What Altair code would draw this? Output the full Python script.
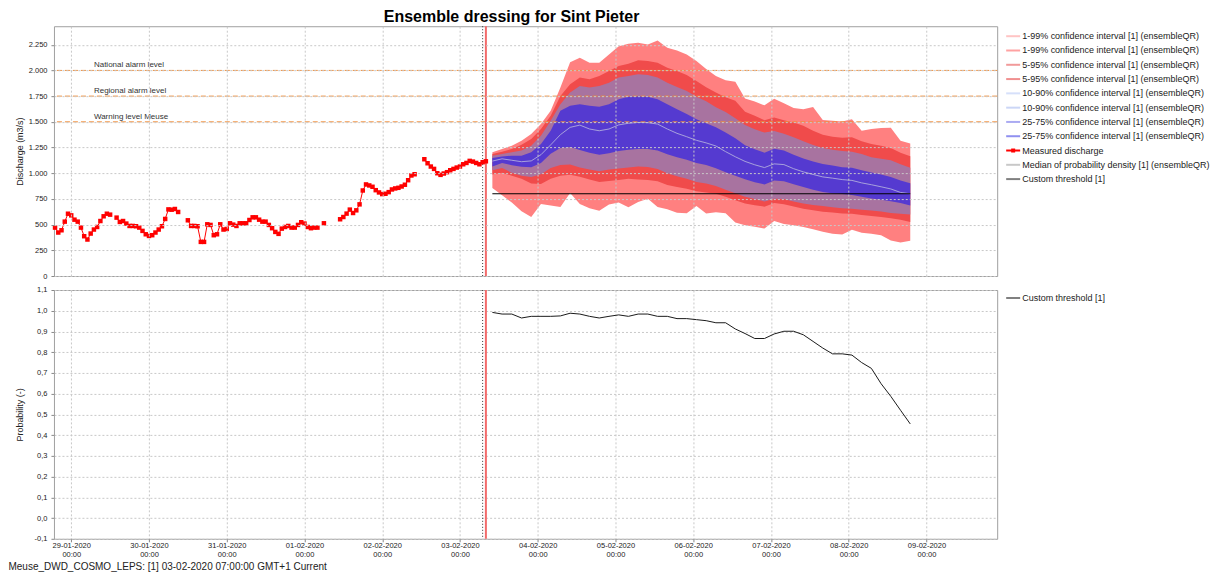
import altair as alt
import pandas as pd

# ---------------- data ----------------
BASE_TIME = pd.Timestamp("2020-01-29 00:00")  # hour offsets are counted from here

# Measured discharge (m3/s), hourly, first value at hour -5; None = no observation
meas_first_hour = -5
measured_discharge = [
    471, 423, 445, 529, 606, 590, 548, 529, 471, 387, 355, 413, 452, 477, 535, 581, 606, 597,
    None,
    568, 526, 535, 510, 487, 487, 484, 471, 439, 406, 390, 397, 423, 452, 484, 555, 648, 645, 652, 623,
    None, None,
    542, 487, 487, 484, 332, 332, 503, 497, 397, 406, 503, 452, 458, 513, 500, 487, 513, 513, 513,
    545, 571, 571, 548, 529, 529, 497, 465, 429, 410, 461, 477, 487, 471, 471, 497, 523, 510, 477,
    465, 471, 471,
    None,
    513,
    None, None, None, None,
    552, 574, 607, 646, 613, 639, 697, 832, 891, 881, 868, 835, 813, 797, 800, 816, 842, 852, 858,
    871, 888, 932, 978, 990,
    None, None,
    1136, 1097, 1065, 1042, 1000, 984, 997, 1010, 1029, 1042, 1055, 1065, 1087, 1100, 1120, 1113,
    1100, 1087, 1107, 1116,
]

# Ensemble dressing forecast, 3-hourly from hour 130 (03-02-2020 10:00)
fc_first_hour = 130
fc_step_hours = 3
q01_lo = [855, 785, 715, 630, 575, 700, 687, 671, 807, 700, 660, 635, 695, 715, 670, 720, 752, 671,
          650, 615, 610, 680, 607, 620, 610, 520, 494, 480, 461, 535, 505, 495, 478, 455, 430, 412,
          405, 450, 420, 412, 397, 345, 325, 342]
q01_hi = [1204, 1236, 1268, 1317, 1381, 1478, 1607, 1833, 2080, 2123, 2075, 2075, 2156, 2236, 2259,
          2269, 2252, 2291, 2220, 2194, 2156, 2091, 2015, 1945, 1905, 1891, 1728, 1697, 1660, 1725,
          1680, 1635, 1622, 1645, 1517, 1510, 1502, 1526, 1413, 1430, 1439, 1443, 1317, 1288]
q05_lo = [987, 1005, 975, 945, 900, 895, 945, 975, 985, 965, 940, 915, 925, 935, 945, 940, 935, 922,
          885, 865, 849, 825, 812, 800, 770, 738, 706, 688, 675, 710, 698, 676, 655, 639, 626, 619,
          609, 606, 593, 585, 573, 563, 547, 526]
q05_hi = [1188, 1210, 1236, 1278, 1333, 1430, 1559, 1752, 1865, 1930, 1914, 1946, 1994, 2043, 2065,
          2098, 2091, 2075, 2027, 1994, 1956, 1897, 1836, 1785, 1740, 1704, 1597, 1560, 1516, 1543,
          1515, 1494, 1462, 1413, 1375, 1355, 1345, 1349, 1310, 1284, 1268, 1245, 1200, 1165]
q10_lo = [1028, 1050, 1005, 975, 962, 990, 1050, 1080, 1085, 1055, 1035, 1020, 1035, 1045, 1055,
          1065, 1060, 1040, 1000, 970, 945, 915, 900, 875, 838, 806, 770, 748, 725, 752, 748, 725,
          705, 690, 680, 668, 658, 655, 645, 637, 628, 614, 606, 598]
q10_hi = [1171, 1188, 1204, 1220, 1268, 1365, 1510, 1672, 1785, 1849, 1833, 1849, 1881, 1930, 1946,
          1962, 1956, 1930, 1881, 1839, 1801, 1743, 1700, 1642, 1595, 1535, 1470, 1428, 1395, 1410,
          1385, 1350, 1312, 1275, 1245, 1228, 1215, 1208, 1188, 1155, 1140, 1125, 1088, 1052]
q25_lo = [1065, 1100, 1078, 1062, 1058, 1100, 1190, 1245, 1255, 1225, 1200, 1180, 1195, 1215, 1228,
          1236, 1236, 1220, 1185, 1155, 1130, 1100, 1080, 1048, 1010, 976, 942, 912, 891, 930, 921,
          893, 866, 840, 818, 805, 797, 788, 770, 754, 742, 728, 710, 687]
q25_hi = [1149, 1162, 1171, 1171, 1204, 1284, 1413, 1607, 1656, 1672, 1656, 1646, 1672, 1720, 1743,
          1752, 1743, 1720, 1672, 1623, 1575, 1526, 1485, 1448, 1395, 1340, 1272, 1232, 1200, 1238,
          1220, 1180, 1142, 1115, 1090, 1075, 1058, 1052, 1028, 1008, 988, 962, 930, 902]
median = [1118, 1140, 1126, 1112, 1120, 1180, 1276, 1375, 1446, 1468, 1430, 1413, 1430, 1470, 1486,
          1494, 1492, 1478, 1430, 1388, 1355, 1320, 1295, 1265, 1210, 1160, 1115, 1082, 1055, 1091,
          1084, 1044, 1013, 988, 964, 952, 938, 930, 906, 888, 868, 847, 813, 800]
probability = [0.992, 0.984, 0.984, 0.965, 0.973, 0.973, 0.973, 0.975, 0.988, 0.984, 0.973, 0.965,
               0.973, 0.980, 0.973, 0.984, 0.984, 0.973, 0.973, 0.962, 0.962, 0.957, 0.952, 0.942,
               0.942, 0.912, 0.890, 0.866, 0.866, 0.888, 0.901, 0.901, 0.884, 0.852, 0.820, 0.792,
               0.792, 0.786, 0.750, 0.722, 0.648, 0.587, 0.520, 0.454]

custom_threshold = 800
level_values = [2000, 1750, 1500]
level_labels = ["National alarm level", "Regional alarm level", "Warning level Meuse"]

t0_hour = 127    # 03-02-2020 07:00 (forecast time)
now_hour = 128   # 03-02-2020 08:00 (current time)

x_domain = ["2020-01-28 18:40", "2020-02-09 21:50"]
day_ticks = ["2020-01-29", "2020-01-30", "2020-01-31", "2020-02-01", "2020-02-02", "2020-02-03",
             "2020-02-04", "2020-02-05", "2020-02-06", "2020-02-07", "2020-02-08", "2020-02-09"]
discharge_ticks = [0, 250, 500, 750, 1000, 1250, 1500, 1750, 2000, 2250]
discharge_max = 2430
prob_ticks = [-0.1, 0.0, 0.1, 0.2, 0.3, 0.4, 0.5, 0.6, 0.7, 0.8, 0.9, 1.0, 1.1]

legend_labels = [
    "1-99% confidence interval [1]  (ensembleQR)",
    "1-99% confidence interval [1]  (ensembleQR)",
    "5-95% confidence interval [1]  (ensembleQR)",
    "5-95% confidence interval [1]  (ensembleQR)",
    "10-90% confidence interval [1]  (ensembleQR)",
    "10-90% confidence interval [1]  (ensembleQR)",
    "25-75% confidence interval [1]  (ensembleQR)",
    "25-75% confidence interval [1]  (ensembleQR)",
    "Measured discharge",
    "Median of probability density [1]  (ensembleQR)",
    "Custom threshold [1]",
]
legend_colors = ["#ffc4c4", "#ffa2a2", "#f19a9a", "#f09090", "#d6e0fa", "#cbd6f6",
                 "#aaaaf2", "#9090f0", "#ff0000", "#c8c8c8", "#808080"]
bottom_legend_labels = ["Custom threshold [1]"]

title_text = "Ensemble dressing for Sint Pieter"
caption_text = "Meuse_DWD_COSMO_LEPS: [1] 03-02-2020 07:00:00 GMT+1 Current"

# ---------------- tables ----------------
def to_time(h):
    return BASE_TIME + pd.to_timedelta(h, unit="h")

def to_dt(s):
    t = pd.Timestamp(s)
    return alt.DateTime(year=t.year, month=t.month, date=t.day, hours=t.hour, minutes=t.minute)

rows, seg = [], 0
for i, v in enumerate(measured_discharge):
    if v is None:
        seg += 1
        continue
    rows.append({"time": to_time(meas_first_hour + i), "value": v, "seg": seg})
meas_df = pd.DataFrame(rows)

n_fc = len(median)
fc_df = pd.DataFrame({
    "time": [to_time(fc_first_hour + fc_step_hours * i) for i in range(n_fc)],
    "q01_lo": q01_lo, "q01_hi": q01_hi, "q05_lo": q05_lo, "q05_hi": q05_hi,
    "q10_lo": q10_lo, "q10_hi": q10_hi, "q25_lo": q25_lo, "q25_hi": q25_hi,
    "median": median, "prob": probability,
    "threshold": [custom_threshold] * n_fc,
})
lv_df = pd.DataFrame({"value": level_values, "label": level_labels})
t0_df = pd.DataFrame({"time": [to_time(t0_hour)]})
now_df = pd.DataFrame({"time": [to_time(now_hour)]})
leg_df = pd.DataFrame({"idx": list(range(len(legend_labels))), "label": legend_labels})
leg2_df = pd.DataFrame({"label": bottom_legend_labels})

# ---------------- styling ----------------
FONT = "Liberation Sans"
W, H1, H2 = 944, 250, 249

x_scale = alt.Scale(domain=[to_dt(d) for d in x_domain], nice=False)
tick_dt = [to_dt(d) for d in day_ticks]

ax_top_x = alt.Axis(values=tick_dt, labels=False, ticks=False, domain=False, title=None,
                    grid=True, zindex=1)
ax_bot_x = alt.Axis(values=tick_dt, title=None, grid=True, labelFlush=False, labelOverlap=False,
                    labelExpr="[timeFormat(datum.value, '%d-%m-%Y'), timeFormat(datum.value, '%H:%M')]",
                    labelPadding=0, labelLineHeight=8.5)

y1_scale = alt.Scale(domain=[0, discharge_max], nice=False)
y2_scale = alt.Scale(domain=[prob_ticks[0], prob_ticks[-1]], nice=False)

ax_top_y = alt.Axis(values=discharge_ticks, title="Discharge (m3/s)", grid=True, zindex=1,
                    labelExpr="replace(format(datum.value, ',d'), ',', '.')",
                    titleX=-29, titleY=H1 / 2, labelPadding=4)
ax_bot_y = alt.Axis(values=prob_ticks, title="Probability (-)", grid=True,
                    labelExpr="replace(replace(format(datum.value, '.1f'), '.', ','), '\u2212', '-')",
                    titleX=-29, titleY=H2 / 2, labelPadding=4)

xt = alt.X("time:T", scale=x_scale, axis=ax_top_x)
xb = alt.X("time:T", scale=x_scale, axis=ax_bot_x)

def yt(field):
    return alt.Y(f"{field}:Q", scale=y1_scale, axis=ax_top_y)

def band(lo, hi, color):
    return alt.Chart(fc_df).mark_area(color=color).encode(x=xt, y=yt(lo), y2=alt.Y2(f"{hi}:Q"))

top_data = alt.layer(
    band("q01_lo", "q01_hi", "#ff8080"),
    band("q05_lo", "q05_hi", "#f04b4b"),
    band("q10_lo", "q10_hi", "#a873a0"),
    band("q25_lo", "q25_hi", "#553ad0"),
    alt.Chart(fc_df).mark_line(color="#b0acde", strokeWidth=0.9).encode(x=xt, y=yt("median")),
    alt.Chart(lv_df).mark_rule(color="#ef8f3c", strokeDash=[5, 3], strokeWidth=1).encode(y=yt("value")),
    alt.Chart(lv_df).mark_text(align="left", baseline="middle", dy=-5, font=FONT, fontSize=8,
                               color="#333333").encode(x=alt.value(40), y=yt("value"), text="label:N"),
    alt.Chart(fc_df).mark_line(color="#000000", strokeWidth=1.2).encode(x=xt, y=yt("threshold")),
    alt.Chart(t0_df).mark_rule(color="#333333", strokeDash=[1, 2], strokeWidth=1).encode(x=xt),
    alt.Chart(now_df).mark_rule(color="#f26b6b", strokeWidth=2).encode(x=xt),
    alt.Chart(meas_df).mark_line(color="#ff0000", strokeWidth=1).encode(x=xt, y=yt("value"), detail="seg:N"),
    alt.Chart(meas_df).mark_square(size=20, color="#ff0000", opacity=1).encode(x=xt, y=yt("value")),
)

leg_y = alt.Y("idx:Q", scale=alt.Scale(domain=[0, len(legend_labels) - 1], range=[10, 153]), axis=None)
top_legend = alt.layer(
    alt.Chart(leg_df).mark_rule(strokeWidth=2).encode(
        x=alt.value(953), x2=alt.value(967), y=leg_y,
        color=alt.Color("idx:N", scale=alt.Scale(domain=list(range(len(legend_labels))),
                                                 range=legend_colors), legend=None)),
    alt.Chart(leg_df).transform_filter(alt.datum.label == "Measured discharge")
        .mark_square(size=16, color="#ff0000", opacity=1).encode(x=alt.value(960), y=leg_y),
    alt.Chart(leg_df).mark_text(align="left", baseline="middle", font=FONT, fontSize=9,
                                color="#222222").encode(x=alt.value(969), y=leg_y, text="label:N"),
)

top = alt.layer(top_data, top_legend).resolve_scale(y="independent").properties(
    width=W, height=H1,
    title=alt.TitleParams(title_text, font=FONT, fontSize=16, fontWeight="bold", anchor="middle",
                          frame="group", dx=-14, offset=0, color="#000000"))

bot_data = alt.layer(
    alt.Chart(t0_df).mark_rule(color="#333333", strokeDash=[1, 2], strokeWidth=1).encode(x=xb),
    alt.Chart(now_df).mark_rule(color="#f26b6b", strokeWidth=2).encode(x=xb),
    alt.Chart(fc_df).mark_line(color="#1a1a1a", strokeWidth=1).encode(
        x=xb, y=alt.Y("prob:Q", scale=y2_scale, axis=ax_bot_y)),
)
bot_legend = alt.layer(
    alt.Chart(leg2_df).mark_rule(strokeWidth=2, color="#808080").encode(
        x=alt.value(953), x2=alt.value(967), y=alt.value(8)),
    alt.Chart(leg2_df).mark_text(align="left", baseline="middle", font=FONT, fontSize=9,
                                 color="#222222").encode(x=alt.value(969), y=alt.value(8), text="label:N"),
)
bottom = alt.layer(bot_data, bot_legend).properties(width=W, height=H2)

chart = alt.vconcat(top, bottom, spacing=5).properties(
    padding=0,
    title=alt.TitleParams(caption_text, orient="bottom", anchor="start", font=FONT, fontSize=10,
                          fontWeight="normal", color="#222222", offset=4, dx=-7),
).configure(font=FONT, background="#ffffff").configure_view(
    stroke="#a0a0a0", strokeWidth=1
).configure_axis(
    labelFont=FONT, titleFont=FONT, labelFontSize=7.5, titleFontSize=9, titleFontWeight="normal",
    labelColor="#222222", titleColor="#222222", tickColor="#888888", tickSize=3, domain=False,
    gridColor="#c8c8c8", gridDash=[2, 2], gridWidth=1,
)

chart.save("out.html", embed_options={"renderer": "svg", "actions": False})
